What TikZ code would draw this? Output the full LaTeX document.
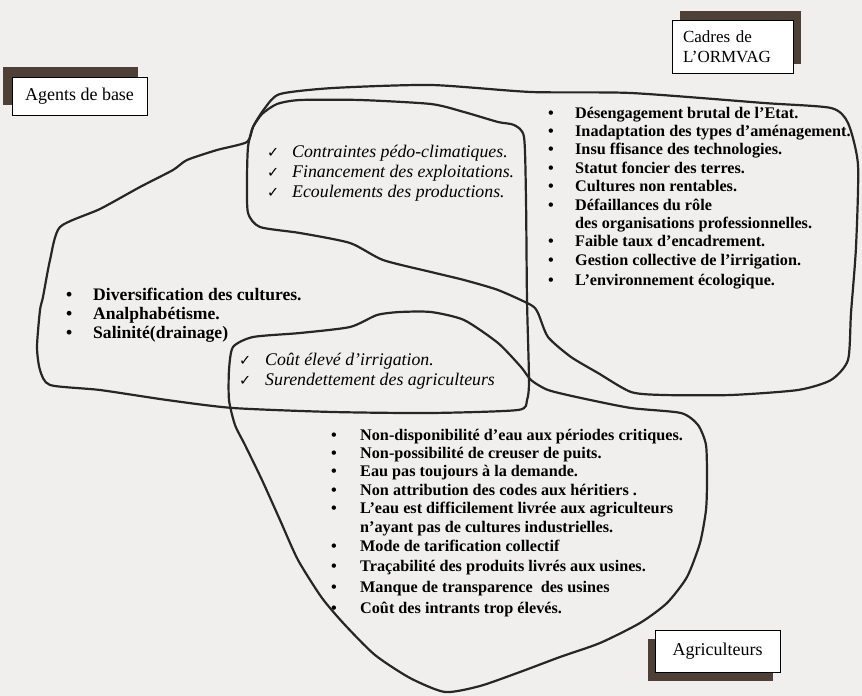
\documentclass[tikz,border=0pt]{standalone}
\usepackage{fontspec}
\setmainfont{Liberation Serif}
\newfontfamily\checkfont{DejaVu Sans}
\usetikzlibrary{positioning}
\usetikzlibrary{shadows}
\definecolor{paper}{RGB}{240,239,237}
\definecolor{shadowbrown}{RGB}{78,64,55}
\newcommand{\chkmark}{{\checkfont\fontsize{14.5}{14.5}\selectfont ✓}}
\tikzset{
  blob/.style={draw=black!85, line width=2.2pt, line join=round},
  labelbox/.style={draw=black, line width=0.8pt, fill=white, inner sep=0pt,
    font=\fontsize{17}{19.5}\selectfont},
  itemlist/.style={inner sep=0pt, anchor=base west},
  boldlist/.style={itemlist, font=\fontsize{16.2}{18.4}\selectfont\bfseries},
  checklist/.style={itemlist, font=\fontsize{17.8}{20}\selectfont\itshape}
}

\begin{document}
\begin{tikzpicture}[x=1pt,y=-1pt]
  \useasboundingbox (0,0) rectangle (862,696);
  \fill[paper] (0,0) rectangle (862,696);

  \draw[blob] plot[smooth cycle, tension=0.4] coordinates {
    (50,385) (40,370) (37,347) (40,310) (43,297) (50,260) (60,227) (100,209)
    (140,187) (173,170) (187,160) (217,150) (247,142) (253,127) (262,114)
    (277,104) (300,100) (360,100) (431,104) (464,112) (498,122) (514,125)
    (524,137) (526,200) (527,300) (529,380) (527,400) (518,410) (431,413)
    (333,412) (233,408) (167,400) (100,390)};
  \draw[blob] plot[smooth cycle, tension=0.4] coordinates {
    (280,94) (333,88) (431,85) (531,92) (631,93) (764,103) (831,108)
    (848,123) (858,165) (856,247) (851,313) (848,360) (831,380) (798,390)
    (731,395) (664,395) (631,392) (598,373) (571,357) (548,337) (538,313)
    (531,305) (498,290) (464,280) (431,272) (383,260) (350,243) (300,233)
    (260,227) (248,213) (247,180) (248,147) (253,127) (265,108)};
  \draw[blob] plot[smooth cycle, tension=0.4] coordinates {
    (233,347) (253,337) (300,333) (350,327) (377,315) (400,312) (431,312)
    (464,320) (498,343) (521,367) (531,380) (548,390) (581,398) (631,408)
    (681,413) (698,425) (706,445) (707,480) (706,510) (700,543) (687,577)
    (667,603) (640,623) (600,643) (560,657) (520,672) (480,686) (445,692)
    (410,678) (375,655) (345,625) (322,598) (298,560) (280,520) (262,480)
    (245,445) (235,425) (229,400) (229,370)};

  \node[labelbox, minimum width=135, minimum height=38, font=\fontsize{18}{20}\selectfont,
    general shadow={fill=shadowbrown, shadow xshift=-9pt, shadow yshift=10pt}]
    (agentsBox) at (79.5,96) {Agents de base};
  \node[labelbox, minimum width=121, minimum height=53, text width=99pt, align=left,
    general shadow={fill=shadowbrown, shadow xshift=8pt, shadow yshift=9pt}]
    (cadresBox) at (732.5,46.5) {Cadres de\\L'ORMVAG};
  \node[labelbox, minimum width=125, minimum height=42, font=\fontsize{18}{20}\selectfont,
    general shadow={fill=shadowbrown, shadow xshift=-7pt, shadow yshift=-9pt}]
    (agriBox) at (717.5,651) {Agriculteurs};

  \node[checklist] (sharedCadres) at (267,157) {\begin{tabular}[t]{@{}p{25pt}@{}l@{}}
    \chkmark & Contraintes pédo-climatiques.\\
    \chkmark & Financement des exploitations.\\
    \chkmark & Ecoulements des productions.
  \end{tabular}};
  \node[checklist] (sharedAgri) at (239,365) {\begin{tabular}[t]{@{}p{26pt}@{}l@{}}
    \chkmark & Coût élevé d'irrigation.\\
    \chkmark & Surendettement des agriculteurs
  \end{tabular}};

  \node[boldlist, font=\fontsize{17.6}{19.2}\selectfont\bfseries] (agentsList) at (66,300)
    {\begin{tabular}[t]{@{}p{27pt}@{}l@{}}
    \textbullet & Diversification des cultures.\\
    \textbullet & Analphabétisme.\\
    \textbullet & Salinité(drainage)
  \end{tabular}};
  \node[boldlist] (cadresList) at (548,118) {\begin{tabular}[t]{@{}p{27pt}@{}l@{}}
    \textbullet & Désengagement brutal de l'Etat.\\
    \textbullet & Inadaptation des types d'aménagement.\\
    \textbullet & Insu ffisance des technologies.\\
    \textbullet & Statut foncier des terres.\\
    \textbullet & Cultures non rentables.\\
    \textbullet & Défaillances du rôle\\
                & des organisations professionnelles.\\
    \textbullet & Faible taux d'encadrement.\\
    \textbullet & Gestion collective de l'irrigation.\\[1.5pt]
    \textbullet & L'environnement écologique.
  \end{tabular}};
  \node[boldlist] (agriList) at (331,440) {\begin{tabular}[t]{@{}p{29pt}@{}l@{}}
    \textbullet & Non-disponibilité d'eau aux périodes critiques.\\
    \textbullet & Non-possibilité de creuser de puits.\\
    \textbullet & Eau pas toujours à la demande.\\
    \textbullet & Non attribution des codes aux héritiers .\\
    \textbullet & L'eau est difficilement livrée aux agriculteurs\\
                & n'ayant pas de cultures industrielles.\\[1.5pt]
    \textbullet & Mode de tarification collectif\\[1.5pt]
    \textbullet & Traçabilité des produits livrés aux usines.\\[2pt]
    \textbullet & Manque de transparence\ \ des usines\\[3pt]
    \textbullet & Coût des intrants trop élevés.
  \end{tabular}};
\end{tikzpicture}
\end{document}
